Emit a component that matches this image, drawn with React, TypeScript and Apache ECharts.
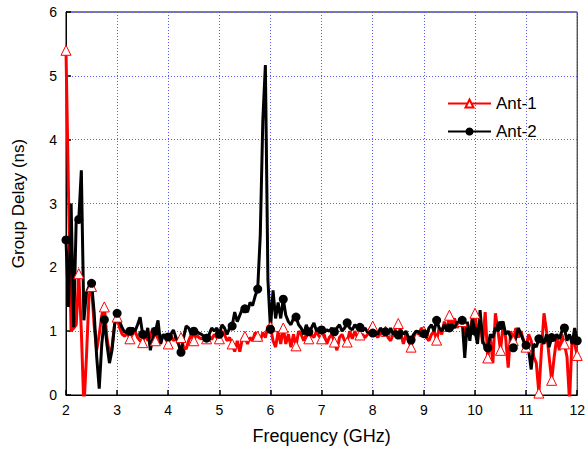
import React, { useEffect, useRef } from "react";
import * as echarts from "echarts";

const FREQ_START = 2;
const FREQ_STEP = 0.05;

const ant1: number[] = [
  5.4, 3.1, 1.0, 1.05, 1.1, 1.9, 1.0, -0.2, 0.6, 1.55,
  1.7, 1.1, 0.7, 0.95, 1.25, 1.38, 0.9, 0.65, 0.75, 1.1,
  1.22, 1.05, 0.95, 0.92, 0.98, 0.88, 0.95, 1.0, 0.9, 0.85,
  0.82, 0.95, 0.85, 0.92, 1.05, 0.85, 1.0, 0.8, 0.95, 0.88,
  0.8, 0.95, 0.85, 0.9, 0.8, 0.9, 0.75, 0.72, 0.85, 0.95,
  0.85, 0.95, 0.9, 0.88, 0.92, 0.88, 0.93, 0.87, 0.95, 0.9,
  0.88, 1.0, 0.95, 0.85, 0.9, 0.8, 0.68, 0.85, 0.68, 0.88,
  0.92, 0.8, 0.9, 0.85, 0.98, 0.92, 0.85, 0.98, 0.9, 1.08,
  1.07, 0.85, 0.75, 1.0, 0.8, 1.05, 0.8, 0.95, 0.75, 0.95,
  0.77, 1.0, 0.95, 0.85, 0.95, 0.88, 0.95, 0.9, 1.0, 0.92,
  0.88, 0.95, 0.8, 0.9, 0.95, 0.83, 0.7, 0.9, 0.95, 0.85,
  0.83, 1.0, 0.88, 1.0, 0.9, 0.94, 0.95, 0.9, 0.95, 1.05,
  1.08, 0.95, 0.9, 1.0, 0.92, 1.0, 0.9, 0.85, 0.95, 1.05,
  1.12, 0.95, 0.8, 0.95, 0.85, 0.75, 0.9, 1.0, 0.95, 1.05,
  1.0, 0.9, 0.85, 0.95, 1.0, 0.86, 1.05, 0.95, 1.15, 1.0,
  1.25, 1.1, 1.2, 1.05, 1.15, 1.15, 0.95, 1.1, 1.0, 1.2,
  1.28, 0.85, 1.2, 0.8, 1.3, 0.58, 0.9, 0.5, 1.28, 1.0,
  0.7, 1.1, 0.9, 0.43, 1.0, 0.85, 1.05, 0.9, 1.0, 0.85,
  0.75, 0.95, 0.85, 0.6, 0.5, 0.03, 0.7, 1.28, 1.0, 0.6,
  0.23, 0.6, 0.9, 0.7, 0.95, 0.8, 0.6, -0.1, 0.9, 0.8,
  0.62,
];

const ant2: number[] = [
  2.43, 1.38, 3.0, 1.06, 2.75, 2.75, 3.52, 1.17, 1.6, 1.7,
  1.75, 1.3, 0.6, 0.1, 0.8, 1.18, 0.8, 0.5, 0.7, 1.1,
  1.28, 1.15, 1.05, 0.98, 1.0, 1.0, 1.05, 1.0, 1.1, 1.22,
  0.95, 0.9, 1.05, 0.7, 0.9, 1.0, 1.17, 0.8, 0.95, 0.9,
  0.91, 0.95, 1.02, 0.9, 0.8, 0.67, 0.9, 1.08, 1.05, 0.95,
  1.0, 1.0, 0.97, 0.95, 0.92, 0.89, 0.95, 1.05, 1.0, 1.05,
  0.95, 1.1, 1.05, 0.95, 1.05, 1.08, 1.3, 1.15, 1.25, 1.35,
  1.35, 1.3, 1.45, 1.4, 1.55, 1.66, 2.5, 4.3, 5.17, 1.8,
  1.03, 1.64, 1.2, 1.45, 1.2, 1.5, 1.25, 1.15, 1.1, 1.2,
  1.22, 1.1, 1.05, 0.95, 1.1, 0.99, 1.05, 1.13, 1.0, 1.05,
  1.02, 0.98, 1.02, 1.0, 1.05, 0.99, 1.05, 1.1, 1.0, 1.05,
  1.13, 1.05, 1.02, 1.1, 1.05, 1.06, 1.0, 1.05, 0.98, 1.02,
  0.97, 1.0, 0.95, 1.05, 1.0, 0.99, 0.92, 1.05, 0.95, 1.0,
  0.94, 1.02, 0.95, 1.0, 0.9, 0.86, 0.95, 1.0, 0.99, 0.93,
  0.96, 0.9, 1.05, 1.1, 1.0, 1.17, 1.05, 1.0, 1.1, 1.0,
  1.05, 1.1, 1.05, 1.15, 1.1, 1.17, 0.58, 1.15, 0.85, 1.2,
  1.0, 0.8, 1.33, 0.85, 0.75, 0.74, 0.95, 0.9, 1.05, 1.0,
  1.09, 1.15, 0.95, 1.0, 0.9, 0.74, 0.9, 1.05, 0.95, 0.85,
  0.78, 0.7, 0.4, 0.8, 0.75, 0.88, 0.9, 0.8, 0.95, 0.75,
  0.9, 0.85, 0.95, 0.88, 1.0, 1.05, 0.85, 0.95, 0.8, 1.05,
  0.85,
];

const xTicks = [2, 3, 4, 5, 6, 7, 8, 9, 10, 11, 12];
const yTicks = [0, 1, 2, 3, 4, 5, 6];
const seriesNames = ["Ant-1", "Ant-2"];

const FONT = "'Liberation Sans', Arial, sans-serif";

function toPairs(vals: number[]): [number, number][] {
  return vals.map((v, i) => [+(FREQ_START + i * FREQ_STEP).toFixed(2), v]);
}

export default function App() {
  const ref = useRef<HTMLDivElement>(null);
  useEffect(() => {
    if (!ref.current) return;
    const chart = echarts.init(ref.current, undefined, { renderer: "svg" });
    const markerSize = (n: number) => (_v: any, p: any) =>
      p.dataIndex % 5 === 0 ? n : 0;
    chart.setOption({
      animation: false,
      backgroundColor: "#fff",
      grid: {
        left: 66,
        right: 9,
        top: 12,
        bottom: 55,
        show: true,
        borderColor: "#000",
        borderWidth: 1,
        backgroundColor: "transparent",
      },
      legend: {
        orient: "vertical",
        left: 447,
        top: 95,
        padding: 0,
        itemWidth: 43,
        itemHeight: 10,
        itemGap: 11,
        textStyle: { fontFamily: FONT, fontSize: 17, color: "#000" },
        data: seriesNames,
      },
      xAxis: {
        type: "value",
        min: xTicks[0],
        max: xTicks[xTicks.length - 1],
        interval: 1,
        name: "Frequency (GHz)",
        nameLocation: "middle",
        nameGap: 32,
        nameTextStyle: { fontFamily: FONT, fontSize: 18, color: "#000" },
        axisLine: { show: true, lineStyle: { color: "#000", width: 1 } },
        axisTick: { show: true, inside: true, length: 5, lineStyle: { color: "#000", width: 1.5 } },
        axisLabel: { fontFamily: FONT, fontSize: 14, color: "#000", margin: 8 },
        splitLine: { show: true, lineStyle: { color: "#5a5aff", type: [1, 2], width: 1 } },
      },
      yAxis: {
        type: "value",
        min: yTicks[0],
        max: yTicks[yTicks.length - 1],
        interval: 1,
        name: "Group Delay (ns)",
        nameLocation: "middle",
        nameGap: 39,
        nameTextStyle: { fontFamily: FONT, fontSize: 17, color: "#000" },
        axisLine: { show: true, lineStyle: { color: "#000", width: 1 } },
        axisTick: { show: true, inside: true, length: 5, lineStyle: { color: "#000", width: 1.5 } },
        axisLabel: { fontFamily: FONT, fontSize: 14, color: "#000", margin: 9 },
        splitLine: { show: true, lineStyle: { color: "#5a5aff", type: [1, 2], width: 1 } },
      },
      series: [
        {
          name: seriesNames[0],
          type: "line",
          data: toPairs(ant1),
          showAllSymbol: true,
          symbol: "triangle",
          symbolSize: markerSize(10),
          lineStyle: { color: "#ff0000", width: 3 },
          itemStyle: { color: "#ffffff", borderColor: "#ff0000", borderWidth: 1 },
          emphasis: { disabled: true },
          clip: true,
        },
        {
          name: seriesNames[1],
          type: "line",
          data: toPairs(ant2),
          showAllSymbol: true,
          symbol: "circle",
          symbolSize: markerSize(9),
          lineStyle: { color: "#000000", width: 3 },
          itemStyle: { color: "#000000", borderColor: "#000000", borderWidth: 0 },
          emphasis: { disabled: true },
          clip: true,
        },
      ],
    });
    return () => chart.dispose();
  }, []);
  return <div ref={ref} style={{ width: 588, height: 450, position: "absolute", left: 0, top: 0 }} />;
}
